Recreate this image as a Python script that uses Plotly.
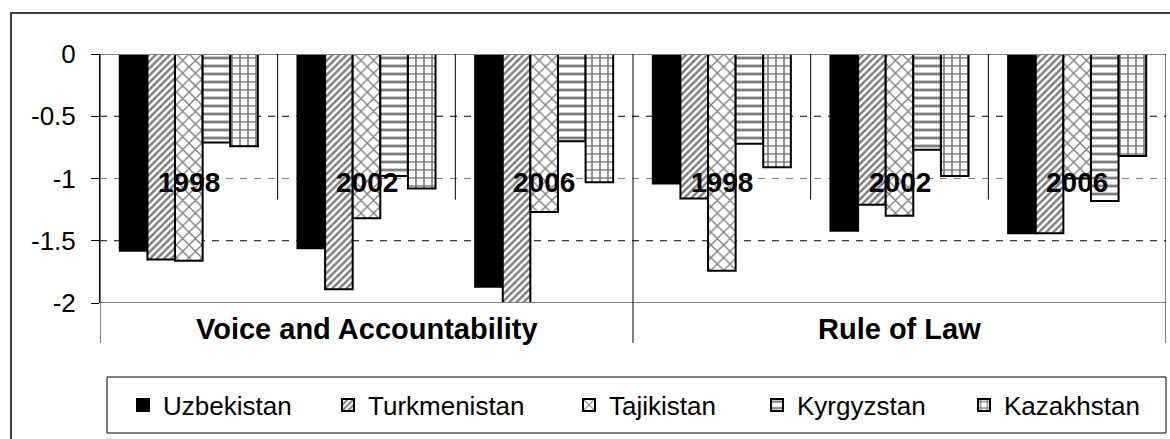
import plotly.graph_objects as go

# Governance indicator estimates for Central Asian states
indicators = ["Voice and Accountability", "Rule of Law"]
years = ["1998", "2002", "2006"]

uzbekistan = [-1.58, -1.56, -1.87, -1.04, -1.42, -1.44]
turkmenistan = [-1.65, -1.89, -2.00, -1.16, -1.21, -1.44]
tajikistan = [-1.66, -1.32, -1.27, -1.74, -1.30, -1.00]
kyrgyzstan = [-0.71, -0.98, -0.70, -0.72, -0.77, -1.18]
kazakhstan = [-0.74, -1.08, -1.03, -0.91, -0.98, -0.82]

y_ticks = [0, -0.5, -1, -1.5, -2]
y_tick_labels = ["0", "-0.5", "-1", "-1.5", "-2"]

categories = [f"{ind} {yr}" for ind in indicators for yr in years]

FONT = "Liberation Sans, Arial, sans-serif"
W, H = 1170, 439
L, R, T, B = 100, 4, 54, 136
PW, PH = W - L - R, H - T - B


def px_x(px):
    return (px - L) / PW


def px_y(py):
    return (H - B - py) / PH


series = [
    ("Uzbekistan", uzbekistan, dict(color="black")),
    ("Turkmenistan", turkmenistan,
     dict(color="white", pattern=dict(shape="/", fgcolor="black", bgcolor="white", size=5, solidity=0.5))),
    ("Tajikistan", tajikistan,
     dict(color="white", pattern=dict(shape="x", fgcolor="black", bgcolor="white", size=9, solidity=0.28))),
    ("Kyrgyzstan", kyrgyzstan,
     dict(color="white", pattern=dict(shape="-", fgcolor="black", bgcolor="white", size=8, solidity=0.35))),
    ("Kazakhstan", kazakhstan,
     dict(color="white", pattern=dict(shape="+", fgcolor="black", bgcolor="white", size=8, solidity=0.38))),
]
legend_widths = [160, 196, 143, 162, 150]

fig = go.Figure()
for (name, vals, mk), lw in zip(series, legend_widths):
    fig.add_trace(go.Bar(
        name=name, x=categories, y=vals,
        marker=dict(line=dict(color="black", width=2), **mk),
        legendwidth=lw,
    ))

shapes = []
# dashed gridlines
for v in y_ticks[1:-1]:
    shapes.append(dict(type="line", xref="paper", yref="y", x0=0, x1=1, y0=v, y1=v,
                       line=dict(color="#808080" if v == -1 else "black", width=1, dash="7px,7px"),
                       layer="below"))
# top and bottom frame lines
for v in (0, -2):
    shapes.append(dict(type="line", xref="paper", yref="y", x0=0, x1=1, y0=v, y1=v,
                       line=dict(color="#808080", width=2)))
# year separators within each indicator
for i in (0.5, 1.5, 3.5, 4.5):
    shapes.append(dict(type="line", xref="x", yref="y", x0=i, x1=i, y0=0, y1=-1.17,
                       line=dict(color="black", width=1)))
# indicator boundaries extending into the label band
for i in (-0.5, 2.5, 5.5):
    shapes.append(dict(type="line", xref="x", yref="paper", x0=i, x1=i, y0=1, y1=px_y(343),
                       line=dict(color="black", width=1)))
# legend box
shapes.append(dict(type="rect", xref="paper", yref="paper",
                   x0=px_x(107), x1=px_x(1166), y0=px_y(377), y1=px_y(433),
                   line=dict(color="black", width=1)))
# outer chart border
shapes.append(dict(type="rect", xref="paper", yref="paper",
                   x0=px_x(11), x1=px_x(1180), y0=px_y(13), y1=px_y(450),
                   line=dict(color="#404040", width=2)))

annotations = []
for i, cat in enumerate(categories):
    annotations.append(dict(x=i, y=-1.035, xref="x", yref="y", text=f"<b>{years[i % 3]}</b>",
                            showarrow=False, font=dict(family=FONT, size=28, color="black"),
                            xanchor="center", yanchor="middle"))
for k, ind in enumerate(indicators):
    annotations.append(dict(x=3 * k + 1, y=px_y(329), xref="x", yref="paper", text=f"<b>{ind}</b>",
                            showarrow=False, font=dict(family=FONT, size=29, color="black"),
                            xanchor="center", yanchor="middle"))

fig.update_layout(
    width=W, height=H,
    margin=dict(l=L, r=R, t=T, b=B, autoexpand=False),
    paper_bgcolor="white", plot_bgcolor="white",
    barmode="group", bargap=0.223, bargroupgap=0,
    font=dict(family=FONT, size=26, color="black"),
    showlegend=True,
    legend=dict(orientation="h", x=px_x(123), y=px_y(405), xanchor="left", yanchor="middle",
                font=dict(family=FONT, size=26, color="black"), bgcolor="rgba(0,0,0,0)",
                traceorder="normal"),
    xaxis=dict(showticklabels=False, showgrid=False, zeroline=False, showline=False,
               ticks="", range=[-0.5, 5.5]),
    yaxis=dict(range=[-2, 0], tickvals=y_ticks, ticktext=y_tick_labels, showgrid=False,
               zeroline=False, showline=True, linecolor="black", linewidth=1,
               ticks="outside", ticklen=8, tickcolor="black", ticklabelstandoff=10,
               tickfont=dict(family=FONT, size=26, color="black")),
    shapes=shapes, annotations=annotations,
)

fig.write_html("out.html")
